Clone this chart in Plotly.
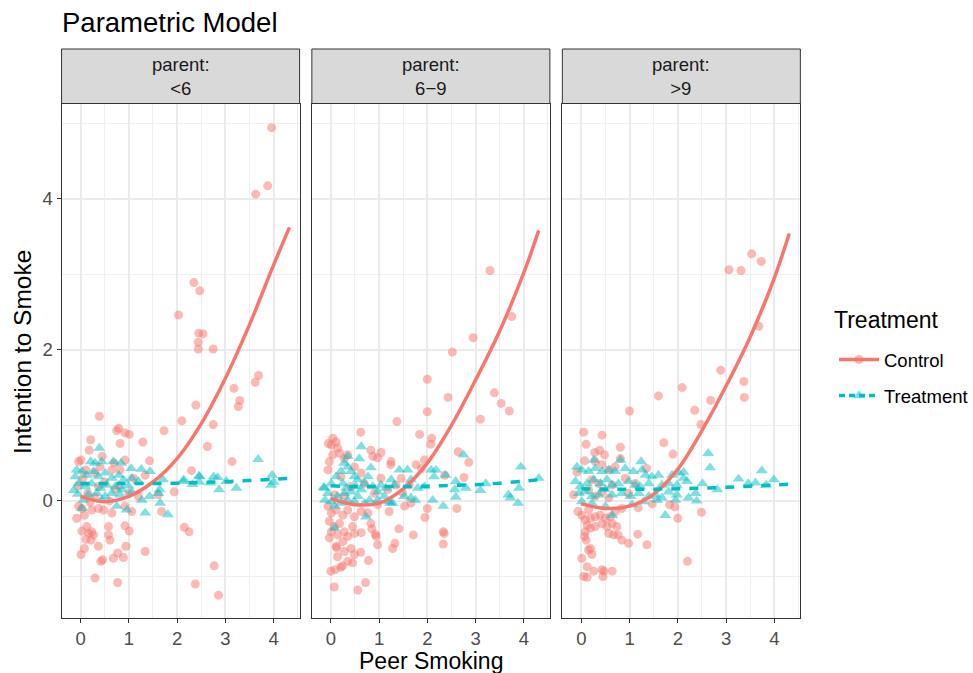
import plotly.graph_objects as go

FONT = "Liberation Sans, Arial, sans-serif"
CTRL_COLOR = "#F8766D"
TREAT_COLOR = "#00BFC4"

panel_labels = ["&lt;6", "6\u22129", "&gt;9"]
series_names = ["Control", "Treatment"]

# ---- scatter data (peer smoking, intention) ----
control_lt6 = [(3.96,4.94),(3.63,4.06),(3.88,4.17),(2.35,2.89),(2.47,2.78),(2.03,2.46),(2.45,2.22),(2.54,2.21),(2.44,2.10),(2.44,2.01),(2.75,2.01),(3.69,1.66),(3.62,1.57),(3.18,1.49),(3.30,1.33),(3.27,1.25),(2.39,1.27),(2.10,1.06),(2.75,1.01),(1.73,0.93),(2.63,0.72),(3.14,0.52),(2.30,0.40),(1.94,0.12),(2.15,-0.35),(2.25,-0.41),(2.77,-0.86),(2.38,-1.10),(2.86,-1.25),
    (0.39,1.12),(0.79,0.96),(0.75,0.93),(0.92,0.90),(1.01,0.88),(0.82,0.76),(1.29,0.78),(0.21,0.81),(0.18,0.67),(0.01,0.54),(-0.04,0.52),(0.45,0.59),(0.92,0.54),(1.43,0.53),(0.11,0.41),(0.30,0.37),(0.65,0.41),(0.82,0.41),(1.34,0.34),(0.37,0.19),(0.72,0.15),(1.20,0.06),(1.61,0.08),(-0.04,-0.07),(0.03,-0.10),(0.23,-0.12),(0.37,-0.10),(0.48,-0.12),(0.65,-0.16),(0.92,-0.07),(1.06,-0.14),(1.68,-0.14),(-0.08,-0.23),(0.08,-0.19),(0.03,-0.40),(0.13,-0.34),(0.17,-0.43),(0.23,-0.41),(0.27,-0.45),(0.11,-0.51),(0.22,-0.52),(0.01,-0.71),(0.08,-0.63),(0.37,-0.60),(0.58,-0.45),(0.61,-0.52),(0.58,-0.34),(0.92,-0.33),(1.01,-0.40),(0.94,-0.60),(1.34,-0.67),(0.77,-0.69),(0.68,-0.76),(0.89,-0.75),(0.46,-0.78),(0.42,-0.80),(0.30,-1.02),(0.77,-1.08),
    (0.05,0.30),(0.15,0.10),(0.30,0.05),(0.50,0.25),(0.60,0.00),(0.80,0.20),(1.00,0.10),(0.40,0.45),(-0.05,0.20),(0.20,-0.02),(1.10,0.30),(0.70,0.50)]

treatment_lt6 = [(0.39,0.70),(0.21,0.52),(0.30,0.50),(0.44,0.52),(0.68,0.52),(0.84,0.50),(1.05,0.43),(1.26,0.42),(1.44,0.39),(-0.08,0.41),(-0.11,0.32),(0.03,0.39),(0.13,0.34),(0.27,0.39),(0.37,0.32),(0.51,0.37),(0.65,0.30),(0.79,0.34),(0.89,0.28),(1.06,0.30),(1.20,0.26),(-0.04,0.23),(0.10,0.19),(0.23,0.23),(0.41,0.17),(0.54,0.21),(0.72,0.19),(0.86,0.15),(0.99,0.20),(-0.14,0.14),(-0.06,0.09),(0.16,0.08),(0.34,0.10),(0.51,0.06),(0.65,0.10),(0.82,0.08),(1.06,0.12),(1.43,0.06),(1.61,0.10),(1.65,-0.03),(0.03,-0.10),(0.75,-0.07),(0.96,-0.12),(1.34,-0.16),(1.81,-0.18),(2.13,0.26),(0.44,0.01),(0.06,0.01),(1.27,0.01),(2.14,0.28),(2.32,0.22),(2.47,0.32),(2.69,0.24),(2.84,0.31),(2.87,0.15),(3.02,0.26),(3.23,0.17),(3.68,0.55),(3.97,0.34),(3.95,0.21),(4.00,0.25),(2.45,0.33),(2.46,0.25),(2.76,0.32),(1.71,0.28),(1.64,0.15)]

control_6to9 = [(3.30,3.05),(3.75,2.44),(2.95,2.16),(2.52,1.97),(2.00,1.61),(2.43,1.37),(2.00,1.18),(3.39,1.43),(3.53,1.29),(3.70,1.19),(3.10,1.08),(1.37,1.05),(0.62,0.91),(1.84,0.88),(2.09,0.83),(2.07,0.75),(2.64,0.65),(2.86,0.51),(2.76,0.31),(2.36,0.34),(2.61,-0.10),(2.00,-0.10),(1.95,-0.22),(2.33,-0.41),(2.35,-0.43),(2.33,-0.57),(1.71,-0.45),(1.41,-0.37),(1.33,-0.56),(1.28,-0.63),(1.21,-0.14),(0.78,-0.79),(0.72,-1.08),(0.56,-1.18),(0.07,-1.14),(0.00,-0.93),(0.09,-0.91),(0.21,-0.88),(0.24,-0.86),(0.45,-0.82),(0.62,-0.68),(0.97,-0.58),(0.92,-0.44),(0.85,-0.37),
    (0.04,0.83),(0.11,0.78),(0.01,0.74),(-0.05,0.76),(-0.06,0.41),(-0.03,0.52),(0.04,0.61),(0.18,0.63),(0.14,0.70),(0.28,0.56),(0.35,0.61),(0.83,0.67),(1.04,0.64),(0.87,0.59),(0.97,0.57),(1.25,0.52),(1.24,0.48),(1.46,0.30),(1.49,0.11),(1.63,0.21),(1.77,0.48),(1.94,0.54),(1.88,0.43),(1.35,0.21),(0.49,0.45),(0.63,0.37),(0.21,0.32),(0.42,0.19),(0.69,0.23),(1.04,0.30),(1.18,0.15),(0.90,0.10),(0.28,0.06),(0.08,0.08),(-0.06,-0.07),(0.01,-0.16),(0.11,-0.12),(0.25,-0.19),(0.35,-0.12),(0.49,-0.21),(0.63,-0.14),(0.77,-0.16),(0.97,-0.05),(1.53,-0.07),(1.66,-0.03),(-0.03,-0.27),(0.07,-0.34),(0.18,-0.30),(0.01,-0.41),(0.14,-0.45),(0.28,-0.41),(0.35,-0.47),(0.45,-0.34),(0.49,-0.43),(0.63,-0.42),(0.83,-0.30),(0.94,-0.47),(-0.03,-0.49),(0.11,-0.60),(0.25,-0.54),(0.28,-0.67),(0.42,-0.63),(0.49,-0.71),(0.14,-0.74),(0.35,-0.80),(0.12,-0.62)]

treatment_6to9 = [(0.63,0.72),(0.59,0.56),(0.83,0.44),(0.35,0.59),(-0.13,0.17),(-0.06,0.10),(0.01,0.23),(0.11,0.32),(0.21,0.39),(0.28,0.50),(0.35,0.45),(0.42,0.39),(0.49,0.32),(0.56,0.28),(0.25,0.23),(0.32,0.17),(0.42,0.12),(0.52,0.19),(0.63,0.15),(0.70,0.23),(0.77,0.32),(0.87,0.19),(0.97,0.12),(1.04,0.21),(1.14,0.17),(1.25,0.28),(1.32,0.21),(1.42,0.41),(1.59,0.41),(1.66,0.28),(1.80,0.17),(1.94,0.19),(2.08,0.41),(2.18,0.41),(2.14,0.32),(1.28,-0.03),(1.11,0.06),(0.97,0.01),(0.80,0.01),(0.70,-0.03),(0.56,0.06),(0.49,-0.01),(0.35,0.01),(0.21,-0.03),(0.08,-0.07),(0.01,-0.01),(0.14,0.06),(0.28,0.10),(0.73,-0.21),(1.21,-0.01),(1.66,0.04),(1.52,0.06),(2.11,0.01),(0.08,-0.36),(2.59,0.26),(2.57,0.15),(2.59,0.05),(2.75,0.61),(2.80,0.17),(3.21,0.23),(3.10,0.14),(3.94,0.45),(4.31,0.30),(3.68,0.08),(3.72,0.04),(3.90,0.17),(3.88,-0.03),(2.33,-0.07),(2.38,0.34),(1.75,0.01),(1.23,-0.03),(-0.15,0.18),(-0.12,0.01)]

control_gt9 = [(3.53,3.27),(3.73,3.17),(3.06,3.06),(3.31,3.05),(3.68,2.31),(2.89,1.73),(3.37,1.58),(3.38,1.37),(2.09,1.50),(1.60,1.39),(1.00,1.19),(2.35,1.20),(2.68,1.33),(2.48,1.01),(1.71,0.77),(1.90,0.62),(1.35,0.43),(1.47,-0.04),(1.18,-0.09),(1.83,-0.05),(1.94,-0.08),(2.00,-0.23),(2.49,-0.15),(2.20,-0.80),(1.36,-0.58),(1.17,-0.44),
    (0.05,0.91),(0.43,0.87),(0.10,0.75),(0.81,0.71),(0.28,0.64),(0.38,0.67),(0.48,0.61),(0.07,0.53),(0.29,0.52),(0.81,0.56),(-0.09,0.38),(0.43,0.48),(0.57,0.41),(0.70,0.45),(0.22,0.28),(0.36,0.23),(0.64,0.21),(0.91,0.30),(-0.16,0.08),(0.15,0.15),(0.29,0.06),(0.43,0.12),(0.57,0.04),(0.98,0.10),(1.12,0.23),(-0.07,-0.14),(0.01,-0.19),(0.15,-0.12),(0.08,-0.25),(0.19,-0.23),(0.29,-0.21),(0.39,-0.19),(0.50,-0.23),(0.60,-0.21),(0.70,-0.14),(0.12,-0.32),(0.08,-0.41),(0.07,-0.47),(0.10,-0.52),(0.19,-0.36),(0.29,-0.34),(0.43,-0.30),(0.53,-0.34),(0.64,-0.30),(0.74,-0.34),(0.57,-0.43),(0.67,-0.45),(0.76,-0.45),(0.84,-0.52),(0.98,-0.56),(0.84,-0.10),(0.19,-0.63),(0.22,-0.71),(0.15,-0.65),(0.01,-0.76),(0.12,-0.87),(0.26,-0.93),(0.43,-0.91),(0.47,-0.93),(0.64,-0.93),(0.05,-1.00),(0.12,-1.01),(0.45,-1.00)]

treatment_gt9 = [(0.81,0.54),(1.24,0.52),(0.26,0.54),(-0.09,0.45),(0.01,0.41),(0.15,0.39),(0.29,0.43),(0.43,0.39),(0.57,0.41),(0.70,0.39),(0.91,0.43),(1.08,0.39),(1.26,0.41),(1.33,0.34),(1.46,0.32),(1.60,0.34),(1.88,0.34),(2.02,0.37),(2.12,0.30),(-0.12,0.26),(-0.02,0.19),(0.12,0.23),(0.26,0.28),(0.40,0.23),(0.53,0.28),(0.64,0.21),(0.77,0.23),(0.98,0.26),(1.12,0.21),(1.22,0.19),(1.40,0.23),(1.67,0.21),(1.81,0.23),(1.98,0.21),(2.19,0.26),(-0.05,0.10),(0.08,0.12),(0.22,0.06),(0.36,0.08),(0.50,0.15),(0.64,0.08),(0.84,0.10),(1.02,0.06),(1.19,0.10),(1.40,0.06),(1.54,0.08),(1.67,0.04),(1.81,0.12),(1.98,0.08),(2.22,0.04),(0.01,-0.01),(0.22,-0.03),(0.50,-0.07),(0.64,-0.19),(1.05,-0.05),(1.29,-0.01),(1.57,0.01),(1.74,-0.19),(1.95,0.01),(2.63,0.63),(2.67,0.44),(3.74,0.40),(3.26,0.29),(3.46,0.23),(3.61,0.24),(3.99,0.28),(3.83,0.21),(2.82,0.15),(2.51,0.23),(2.37,0.10),(2.39,0.00),(2.12,0.38)]

# ---- fitted curves ----
fit_x_lt6 = [0, 0.5, 1, 1.5, 2, 2.5, 3, 3.5, 4, 4.33]
fit_ctrl_lt6 = [0.06, -0.01, 0.06, 0.25, 0.56, 1.02, 1.62, 2.33, 3.12, 3.62]
fit_treat_lt6 = [0.23, 0.23, 0.23, 0.23, 0.235, 0.245, 0.255, 0.27, 0.285, 0.30]
fit_x_6to9 = [0, 0.5, 1, 1.5, 2, 2.5, 3, 3.5, 4, 4.31]
fit_ctrl_6to9 = [0.03, -0.05, -0.03, 0.16, 0.50, 1.00, 1.60, 2.25, 3.02, 3.58]
fit_treat_6to9 = [0.20, 0.19, 0.19, 0.19, 0.195, 0.205, 0.215, 0.235, 0.26, 0.28]
fit_x_gt9 = [0, 0.5, 1, 1.5, 2, 2.5, 3, 3.5, 4, 4.31]
fit_ctrl_gt9 = [-0.04, -0.10, -0.07, 0.09, 0.42, 0.93, 1.52, 2.17, 2.95, 3.54]
fit_treat_gt9 = [0.16, 0.155, 0.155, 0.155, 0.16, 0.17, 0.18, 0.195, 0.21, 0.22]

x_ticks = [0, 1, 2, 3, 4]
y_ticks = [0, 2, 4]

panels = [
    (control_lt6, treatment_lt6, fit_x_lt6, fit_ctrl_lt6, fit_treat_lt6),
    (control_6to9, treatment_6to9, fit_x_6to9, fit_ctrl_6to9, fit_treat_6to9),
    (control_gt9, treatment_gt9, fit_x_gt9, fit_ctrl_gt9, fit_treat_gt9),
]

W, H = 973, 673
px_x = [(61.7, 300.2), (312.5, 551.0), (563.5, 802.0)]
top_px, bot_px, strip_top_px = 103.5, 618.0, 49.0
ydom = [1 - bot_px / H, 1 - top_px / H]

fig = go.Figure()

for i, (ctrl, trt, fx, fc, ft) in enumerate(panels):
    xa = "x" if i == 0 else f"x{i+1}"
    ya = "y" if i == 0 else f"y{i+1}"
    fig.add_trace(go.Scatter(x=[p[0] for p in ctrl], y=[p[1] for p in ctrl], mode="markers",
                             xaxis=xa, yaxis=ya, showlegend=False, hoverinfo="skip",
                             marker=dict(symbol="circle", size=9, color=CTRL_COLOR, opacity=0.5,
                                         line=dict(width=0))))
    fig.add_trace(go.Scatter(x=[p[0] for p in trt], y=[p[1] for p in trt], mode="markers",
                             xaxis=xa, yaxis=ya, showlegend=False, hoverinfo="skip",
                             marker=dict(symbol="triangle-up", size=10.5, color=TREAT_COLOR, opacity=0.5,
                                         line=dict(width=0))))
    fig.add_trace(go.Scatter(x=fx, y=fc, mode="lines", xaxis=xa, yaxis=ya, showlegend=False,
                             line=dict(color=CTRL_COLOR, width=3.5, shape="spline", smoothing=1)))
    fig.add_trace(go.Scatter(x=fx, y=ft, mode="lines", xaxis=xa, yaxis=ya, showlegend=False,
                             line=dict(color=TREAT_COLOR, width=3.5, dash="9px,9px", shape="spline")))

# legend entries
fig.add_trace(go.Scatter(x=[None], y=[None], mode="lines+markers", name=series_names[0],
                         legendgroup="a", line=dict(color=CTRL_COLOR, width=3.5),
                         marker=dict(symbol="circle", size=9, color=CTRL_COLOR, opacity=0.5)))
fig.add_trace(go.Scatter(x=[None], y=[None], mode="lines+markers", name=series_names[1],
                         legendgroup="b", line=dict(color=TREAT_COLOR, width=3.5, dash="6px,4px"),
                         marker=dict(symbol="triangle-up", size=10.5, color=TREAT_COLOR, opacity=0.5)))

axis_common = dict(
    showline=True, mirror=True, linecolor="#333333", linewidth=1,
    showgrid=True, gridcolor="#EBEBEB", gridwidth=1.6, zeroline=False,
    ticks="outside", ticklen=4, tickcolor="#333333", tickwidth=1,
    tickfont=dict(family=FONT, size=18.5, color="#4D4D4D"),
)

layout = dict(
    width=W, height=H, margin=dict(l=0, r=0, t=0, b=0),
    paper_bgcolor="white", plot_bgcolor="white",
    font=dict(family=FONT, color="black"),
    title=dict(text="Parametric Model", x=62 / W, xanchor="left", y=1 - 22 / H, yanchor="middle",
               font=dict(family=FONT, size=27.5, color="black")),
    legend=dict(x=836 / W, xanchor="left", y=1 - 341 / H, yanchor="top",
                font=dict(size=18.5, family=FONT), tracegroupgap=9, traceorder="grouped",
                itemwidth=40, bgcolor="rgba(0,0,0,0)"),
)

shapes = []
annotations = []
for i in range(3):
    sfx = "" if i == 0 else str(i + 1)
    x0, x1 = px_x[i]
    layout["xaxis" + sfx] = dict(axis_common, domain=[x0 / W, x1 / W], range=[-0.393, 4.54],
                                 tickvals=x_ticks, anchor="y" + sfx,
                                 minor=dict(dtick=0.5, tick0=0, showgrid=True, gridcolor="#EFEFEF", gridwidth=0.9))
    layout["yaxis" + sfx] = dict(axis_common, domain=ydom, range=[-1.55, 5.26], tickvals=y_ticks,
                                 anchor="x" + sfx, showticklabels=(i == 0),
                                 ticks="outside" if i == 0 else "",
                                 minor=dict(dtick=1, tick0=1, showgrid=True, gridcolor="#EFEFEF", gridwidth=0.9))
    shapes.append(dict(type="rect", xref="paper", yref="paper", x0=x0 / W, x1=x1 / W,
                       y0=1 - top_px / H, y1=1 - strip_top_px / H,
                       fillcolor="#D9D9D9", line=dict(color="#333333", width=1), layer="above"))
    annotations.append(dict(xref="paper", yref="paper", x=(x0 + x1) / 2 / W, y=1 - 76 / H,
                            text="parent:<br>" + panel_labels[i], showarrow=False,
                            xanchor="center", yanchor="middle",
                            font=dict(family=FONT, size=18.5, color="#1A1A1A")))

annotations.append(dict(xref="paper", yref="paper", x=431.9 / W, y=1 - 661 / H, text="Peer Smoking",
                        showarrow=False, xanchor="center", yanchor="middle",
                        font=dict(family=FONT, size=23, color="black")))
annotations.append(dict(xref="paper", yref="paper", x=22 / W, y=1 - 352 / H, text="Intention to Smoke",
                        showarrow=False, xanchor="center", yanchor="middle", textangle=-90,
                        font=dict(family=FONT, size=24.5, color="black")))
annotations.append(dict(xref="paper", yref="paper", x=834 / W, y=1 - 320 / H, text="Treatment",
                        showarrow=False, xanchor="left", yanchor="middle",
                        font=dict(family=FONT, size=23, color="black")))

layout["shapes"] = shapes
layout["annotations"] = annotations
fig.update_layout(**layout)

fig.write_html("out.html", config={"displayModeBar": False},
               post_script="document.body.style.margin='0';document.body.style.overflow='hidden';")
